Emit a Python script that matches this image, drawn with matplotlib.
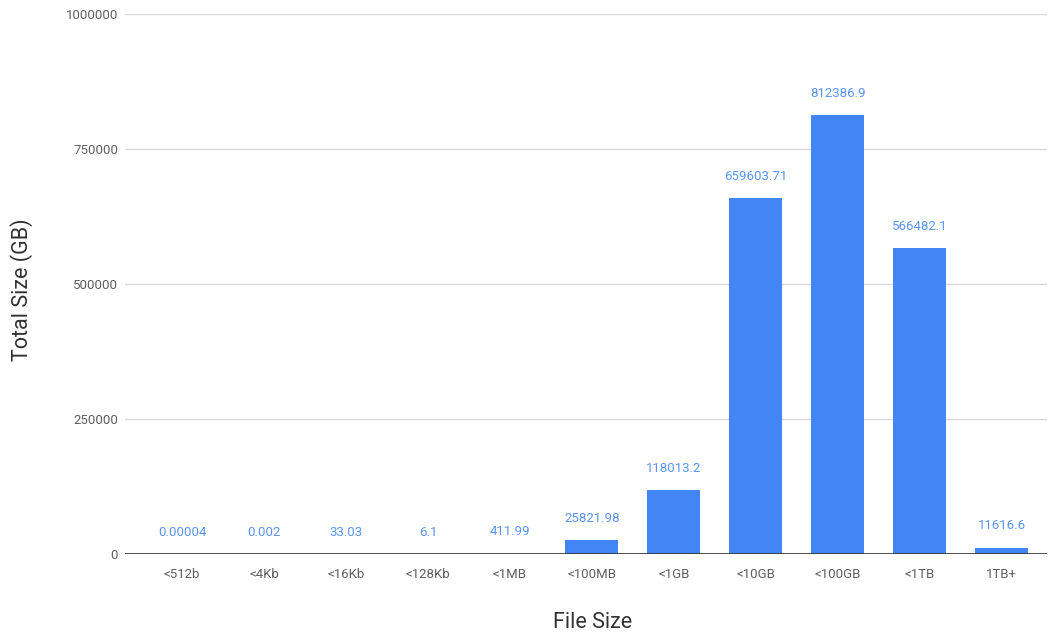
import numpy as np
import matplotlib.pyplot as plt

plt.rcParams['font.family'] = ['Roboto', 'DejaVu Sans']

categories = ['<512b', '<4Kb', '<16Kb', '<128Kb', '<1MB', '<100MB',
              '<1GB', '<10GB', '<100GB', '<1TB', '1TB+']
total_gb = [0.00004, 0.002, 33.03, 6.1, 411.99, 25821.98,
            118013.2, 659603.71, 812386.9, 566482.1, 11616.6]
yticks = [0, 250000, 500000, 750000, 1000000]

blue = '#4285f4'

fig = plt.figure(figsize=(10.49, 6.36), dpi=100)
ax = fig.add_axes([125/1049, 1-554/636, 922/1049, 540/636])

xx = np.arange(len(categories))
bars = ax.bar(xx, total_gb, width=0.646, color=blue, zorder=3)

for x, v in zip(xx, total_gb):
    ax.annotate(np.format_float_positional(v, trim='-'), (x, v),
                xytext=(0, 11), textcoords='offset points',
                ha='center', va='bottom', fontsize=9.5, color='#5a95f5')

ax.set_xlim(-0.695, 10.55)
ax.set_ylim(0, 1000000)
ax.set_yticks(yticks, [str(t) for t in yticks])
ax.set_xticks(xx, categories)
ax.yaxis.grid(True, color='#d9d9d9', linewidth=1, zorder=0)
ax.axhline(0, color='#333333', linewidth=1.2, zorder=4)

for s in ax.spines.values():
    s.set_visible(False)
ax.tick_params(axis='both', length=0, labelsize=9.5, labelcolor='#5f5f5f')
ax.tick_params(axis='y', pad=5)
ax.tick_params(axis='x', pad=10)

ax.set_xlabel('File Size', fontsize=15.5, color='#333333')
ax.set_ylabel('Total Size (GB)', fontsize=15.5, color='#333333')
ax.xaxis.set_label_coords(0.5 + 7/922, -58/540)
ax.yaxis.set_label_coords(-92/922, 0.49)

fig.savefig('out.png', dpi=100)
